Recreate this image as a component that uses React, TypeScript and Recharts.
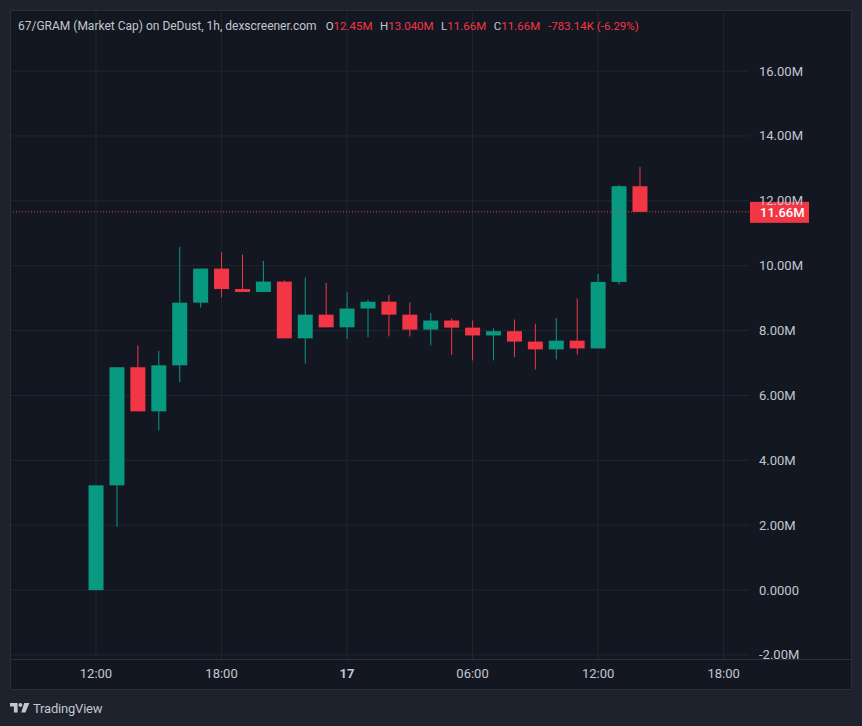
import React from "react";
import { ComposedChart, Bar, XAxis, YAxis, CartesianGrid, ReferenceLine } from "recharts";

// ---- data (values in millions) ----
const HOURS = [12, 13, 14, 15, 16, 17, 18, 19, 20, 21, 22, 23, 24, 25, 26, 27, 28, 29, 30, 31, 32, 33, 34, 35, 36, 37, 38];
const OPEN = [0.0, 3.23, 6.87, 5.51, 6.93, 8.86, 9.91, 9.28, 9.19, 9.51, 7.76, 8.49, 8.10, 8.68, 8.89, 8.49, 8.03, 8.31, 8.09, 7.85, 7.98, 7.66, 7.42, 7.69, 7.45, 9.50, 12.45];
const HIGH = [3.23, 6.87, 7.54, 7.38, 10.58, 9.91, 10.41, 10.34, 10.15, 9.55, 9.64, 9.47, 9.18, 8.95, 9.10, 8.87, 8.54, 8.38, 8.31, 8.07, 8.34, 8.21, 8.39, 8.99, 9.74, 12.49, 13.04];
const LOW = [0.0, 1.95, 5.51, 4.92, 6.41, 8.71, 9.02, 9.19, 9.19, 7.76, 6.98, 8.10, 7.74, 7.79, 7.82, 7.82, 7.54, 7.25, 7.08, 7.08, 7.18, 6.80, 7.11, 7.26, 7.45, 9.42, 11.66];
const CLOSE = [3.23, 6.87, 5.51, 6.93, 8.86, 9.91, 9.28, 9.19, 9.51, 7.76, 8.49, 8.10, 8.68, 8.89, 8.49, 8.03, 8.31, 8.09, 7.85, 7.98, 7.66, 7.42, 7.69, 7.45, 9.50, 12.45, 11.66];

const X_TICKS = [12, 18, 24, 30, 36, 42];
const X_TICK_LABELS = ["12:00", "18:00", "17", "06:00", "12:00", "18:00"];
const X_TICK_BOLD = [false, false, true, false, false, false];
const Y_TICKS = [-2, 0, 2, 4, 6, 8, 10, 12, 14, 16];
const LAST_PRICE = 11.66;

const HEADER_TITLE = "67/GRAM (Market Cap) on DeDust, 1h, dexscreener.com";
const HEADER_KEYS = ["O", "H", "L", "C"];
const HEADER_VALUES = ["12.45M", "13.040M", "11.66M", "11.66M"];
const HEADER_CHANGE = "-783.14K (-6.29%)";

// ---- style ----
const GREEN = "#089981";
const RED = "#f23645";
const PAGE_BG = "#1e222d";
const PANEL_BG = "#131722";
const BORDER = "#2a2e39";
const GRID = "#222631";
const TEXT = "#c3c6ce";
const FONT = "Roboto, 'Noto Sans', sans-serif";

const W = 862;
const H = 726;
const M = { top: 11, right: 10, bottom: 36, left: 11 };
const Y_AXIS_W = 103;
const X_AXIS_H = 31;
const PLOT_BOTTOM = H - M.bottom - X_AXIS_H;
const X_DOMAIN: [number, number] = [7.937, 43.214];
const Y_DOMAIN: [number, number] = [-2.124, 17.851];

const data = HOURS.map((t, i) => ({
  t,
  o: OPEN[i],
  h: HIGH[i],
  l: LOW[i],
  c: CLOSE[i],
  range: [LOW[i], HIGH[i]],
}));

const Candle = (props: any) => {
  const { x, y, width, height, payload } = props;
  if (!payload) return null;
  const { o, h, l, c } = payload;
  const top = Math.min(y, y + height);
  const hh = Math.abs(height);
  const ppu = h === l ? 0 : hh / (h - l);
  const bodyTop = top + (h - Math.max(o, c)) * ppu;
  const bodyBot = top + (h - Math.min(o, c)) * ppu;
  const color = c >= o ? GREEN : RED;
  const cx = x + width / 2;
  return (
    <g>
      <rect x={cx - 0.5} y={top} width={1} height={hh} fill={color} />
      <rect x={x} y={bodyTop} width={width} height={Math.max(1, bodyBot - bodyTop)} fill={color} />
    </g>
  );
};

const fmtY = (v: number) => (v === 0 ? "0.0000" : `${v.toFixed(2)}M`);

const YTick = (props: any) => {
  const { x, y, payload } = props;
  const v = payload.value;
  const id = `yclip${String(v).replace("-", "m")}`;
  const clipH = PLOT_BOTTOM - (y - 12);
  return (
    <g>
      <defs>
        <clipPath id={id}>
          <rect x={x - 5} y={y - 12} width={110} height={clipH} />
        </clipPath>
      </defs>
      <text
        x={x}
        y={y}
        dy={4.5}
        textAnchor="start"
        fill={TEXT}
        fontSize={13}
        fontFamily={FONT}
        clipPath={`url(#${id})`}
      >
        {fmtY(v)}
      </text>
    </g>
  );
};

const XTick = (props: any) => {
  const { x, y, payload } = props;
  const idx = X_TICKS.indexOf(payload.value);
  return (
    <text
      x={x}
      y={y + 18.5}
      textAnchor="middle"
      fill={TEXT}
      fontSize={13}
      fontWeight={X_TICK_BOLD[idx] ? 700 : 400}
      fontFamily={FONT}
    >
      {X_TICK_LABELS[idx]}
    </text>
  );
};

const PriceLabel = (props: any) => {
  const vb = props.viewBox || {};
  const x = (vb.x || 0) + (vb.width || 0) + 1;
  const y = vb.y || 0;
  return (
    <g>
      <rect x={x} y={y - 10} width={59} height={21} fill={RED} />
      <text x={x + 10} y={y} dy={5} fill="#ffffff" fontSize={13} fontWeight={500} fontFamily={FONT}>
        {fmtY(LAST_PRICE)}
      </text>
    </g>
  );
};

const plotW = W - M.left - M.right - Y_AXIS_W;
const plotH = H - M.top - M.bottom - X_AXIS_H;
const xPix = (t: number) => M.left + ((t - X_DOMAIN[0]) / (X_DOMAIN[1] - X_DOMAIN[0])) * plotW;
const yPix = (v: number) => M.top + ((Y_DOMAIN[1] - v) / (Y_DOMAIN[1] - Y_DOMAIN[0])) * plotH;

export default function App() {
  return (
    <div
      style={{
        position: "absolute",
        left: 0,
        top: 0,
        width: W,
        height: H,
        background: PAGE_BG,
        overflow: "hidden",
        fontFamily: FONT,
      }}
    >
      <div
        style={{
          position: "absolute",
          left: 10,
          top: 10,
          width: 840,
          height: 678,
          background: PANEL_BG,
          border: `1px solid ${BORDER}`,
        }}
      />
      <div
        style={{
          position: "absolute",
          left: 11,
          top: PLOT_BOTTOM,
          width: 840,
          height: 1,
          background: BORDER,
        }}
      />
      <div style={{ position: "absolute", left: 0, top: 0 }}>
        <ComposedChart width={W} height={H} data={data} margin={M}>
          <CartesianGrid
            stroke={GRID}
            strokeWidth={1}
            verticalPoints={X_TICKS.map(xPix)}
            horizontalPoints={Y_TICKS.map(yPix)}
          />
          <XAxis
            dataKey="t"
            type="number"
            domain={X_DOMAIN}
            allowDataOverflow
            ticks={X_TICKS}
            height={X_AXIS_H}
            axisLine={false}
            tickLine={false}
            tickSize={0}
            tickMargin={0}
            tick={<XTick />}
            interval={0}
          />
          <YAxis
            orientation="right"
            type="number"
            domain={Y_DOMAIN}
            allowDataOverflow
            ticks={Y_TICKS}
            width={Y_AXIS_W}
            axisLine={false}
            tickLine={false}
            tickSize={0}
            tickMargin={10}
            tick={<YTick />}
            interval={0}
          />
          <Bar dataKey="range" barSize={15} shape={<Candle />} isAnimationActive={false} />
          <ReferenceLine
            y={LAST_PRICE}
            stroke={RED}
            strokeWidth={1}
            strokeDasharray="1 2"
            label={<PriceLabel />}
          />
        </ComposedChart>
      </div>
      <div
        style={{
          position: "absolute",
          left: 18,
          top: 17,
          lineHeight: "16px",
          color: TEXT,
          whiteSpace: "pre",
        }}
      >
        <span style={{ fontSize: 12 }}>{HEADER_TITLE}</span>
        {HEADER_KEYS.map((k, i) => (
          <span key={k} style={{ marginLeft: i === 0 ? 9 : 7.5, fontSize: 11.5 }}>
            {k}
            <span style={{ color: RED }}>{HEADER_VALUES[i]}</span>
          </span>
        ))}
        <span style={{ marginLeft: 8, color: RED, fontSize: 11.5 }}>{HEADER_CHANGE}</span>
      </div>
      <div style={{ position: "absolute", left: 10, top: 700, height: 16, display: "flex", alignItems: "center" }}>
        <svg width={21} height={12} viewBox="0 0 21 12" style={{ display: "block" }}>
          <path d="M0 1 H7.6 V10.6 H3.9 V4.6 H0 Z" fill={TEXT} />
          <circle cx={10.4} cy={2.9} r={1.9} fill={TEXT} />
          <path d="M14.2 1 H19.4 L15.4 10.6 H11.2 Z" fill={TEXT} />
        </svg>
        <span style={{ marginLeft: 2, fontSize: 13, color: TEXT, letterSpacing: -0.2 }}>TradingView</span>
      </div>
    </div>
  );
}
